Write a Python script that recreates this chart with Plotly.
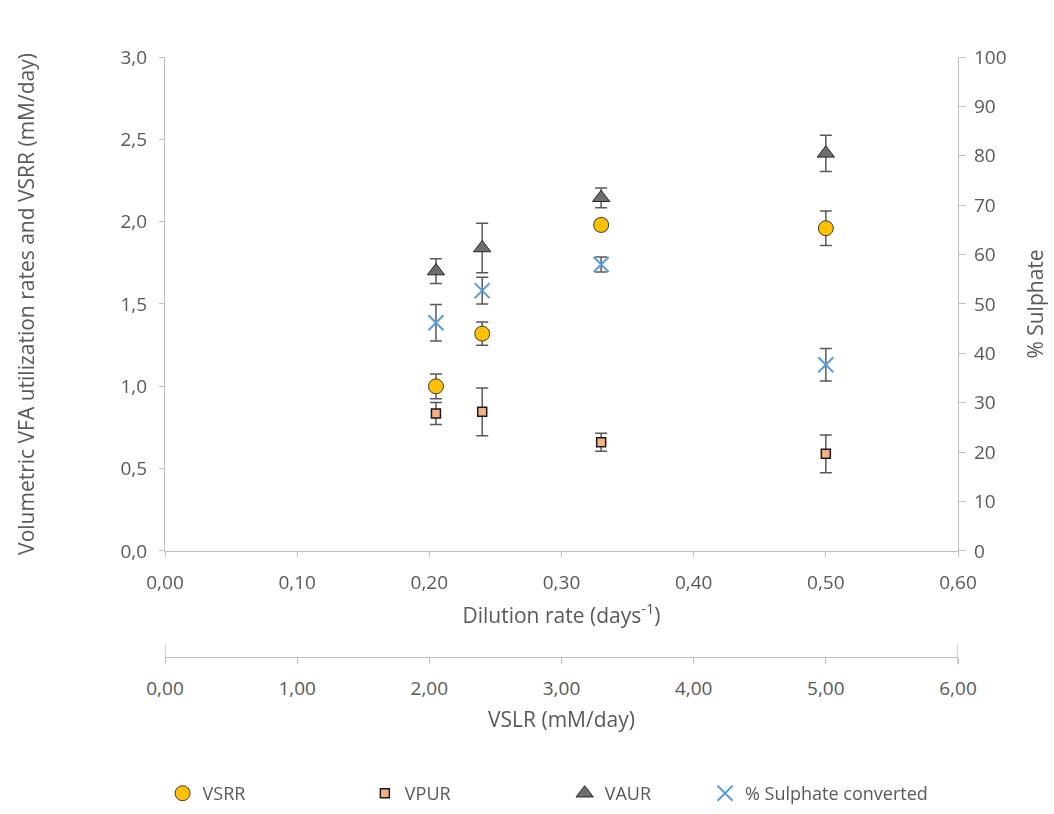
import plotly.graph_objects as go

# Operating points
dilution = [0.205, 0.24, 0.33, 0.50]          # days^-1
vslr = [2.05, 2.40, 3.30, 5.00]               # mM/day

vsrr = [1.00, 1.32, 1.98, 1.96]
vsrr_err = [0.075, 0.07, 0.03, 0.105]
vpur = [0.835, 0.845, 0.66, 0.59]
vpur_err = [0.067, 0.145, 0.055, 0.115]
vaur = [1.70, 1.84, 2.145, 2.415]
vaur_err = [0.075, 0.15, 0.06, 0.11]
sulphate = [46.2, 52.7, 58.0, 37.7]
sulphate_err = [3.7, 2.7, 1.5, 3.3]

FONT = "Open Sans"
TXT = "#595959"
AXIS = "#BFBFBF"
ERR = "#595959"


def err(vals):
    return dict(type="data", array=vals, color=ERR, thickness=1.5, width=6)


fig = go.Figure()

fig.add_trace(go.Scatter(
    x=dilution, y=vsrr, name="VSRR", mode="markers", error_y=err(vsrr_err),
    marker=dict(symbol="circle", size=15, color="#FFC000",
                line=dict(color="#3A3A3A", width=1)),
    legend="legend"))
fig.add_trace(go.Scatter(
    x=dilution, y=vpur, name="VPUR", mode="markers", error_y=err(vpur_err),
    marker=dict(symbol="square", size=9, color="#F4B183",
                line=dict(color="#1A1A1A", width=1.5)),
    legend="legend2"))
fig.add_trace(go.Scatter(
    x=dilution, y=vaur, name="VAUR", mode="markers", error_y=err(vaur_err),
    marker=dict(symbol="triangle-up", size=15, color="#6E6E6E",
                line=dict(color="#262626", width=1)),
    legend="legend3"))
fig.add_trace(go.Scatter(
    x=dilution, y=sulphate, name="% Sulphate converted", mode="markers",
    yaxis="y2", error_y=err(sulphate_err),
    marker=dict(symbol="x-thin", size=15, color="#5B9BD5",
                line=dict(color="#5B9BD5", width=2)),
    legend="legend4"))

# invisible trace carrying the loading-rate axis
fig.add_trace(go.Scatter(
    x=vslr, y=vsrr, xaxis="x3", mode="markers", opacity=0,
    showlegend=False, hoverinfo="skip"))

tickfont = dict(family=FONT, size=19, color=TXT)
titlefont = dict(family=FONT, size=21, color=TXT)

fig.update_layout(
    width=1054, height=814,
    margin=dict(l=165, r=96, t=57, b=134, autoexpand=False),
    paper_bgcolor="white", plot_bgcolor="white",
    separators=", ",
    font=dict(family=FONT, color=TXT),
    xaxis=dict(
        domain=[0, 1], range=[0, 0.6], dtick=0.1, tickformat=".2f",
        showgrid=False, zeroline=False, showline=True, linecolor=AXIS,
        linewidth=1.3, ticks="outside", ticklen=5, tickcolor=AXIS,
        tickfont=tickfont, anchor="y", ticklabelstandoff=9, automargin=False,
        title=dict(text="Dilution rate (days<sup>-1</sup>)", font=titlefont,
                   standoff=14),
    ),
    xaxis3=dict(
        range=[0, 6], dtick=1, tickformat=".2f", anchor="free",
        position=0.0369, overlaying="x",
        showgrid=False, zeroline=False, showline=True, linecolor=AXIS,
        linewidth=1.3, ticks="outside", ticklen=6, tickcolor=AXIS,
        tickfont=tickfont, ticklabelstandoff=8, automargin=False,
        title=dict(text="VSLR (mM/day)", font=titlefont, standoff=12),
    ),
    yaxis=dict(
        domain=[0.2071, 1], range=[0, 3], dtick=0.5, tickformat=".1f",
        showgrid=False, zeroline=False, showline=True, linecolor=AXIS,
        linewidth=1.3, ticks="outside", ticklen=5, tickcolor=AXIS,
        tickfont=tickfont, ticklabelstandoff=8, automargin=False,
        title=dict(text="Volumetric VFA utilization rates and VSRR (mM/day)",
                   font=titlefont, standoff=80),
    ),
    yaxis2=dict(
        range=[0, 100], dtick=10, overlaying="y", side="right", anchor="x",
        showgrid=False, zeroline=False, showline=True, linecolor=AXIS,
        linewidth=1.3, ticks="outside", ticklen=7, tickcolor=AXIS,
        tickfont=tickfont, ticklabelstandoff=4, automargin=False,
        title=dict(text="% Sulphate", font=titlefont, standoff=22),
    ),
)

legend_common = dict(orientation="h", yanchor="bottom", y=-0.2119,
                     xanchor="left", font=dict(family=FONT, size=18, color=TXT),
                     bgcolor="rgba(0,0,0,0)", itemwidth=30)
fig.update_layout(
    legend=dict(x=-0.003, **legend_common),
    legend2=dict(x=0.252, **legend_common),
    legend3=dict(x=0.504, **legend_common),
    legend4=dict(x=0.681, **legend_common),
)

# end caps on the loading-rate axis
for xv in (0, 6):
    fig.add_shape(type="line", xref="x3", yref="paper", x0=xv, x1=xv,
                  y0=0.0369 - 0.012, y1=0.0369 + 0.02,
                  line=dict(color=AXIS, width=1.3))

fig.write_html("out.html")
